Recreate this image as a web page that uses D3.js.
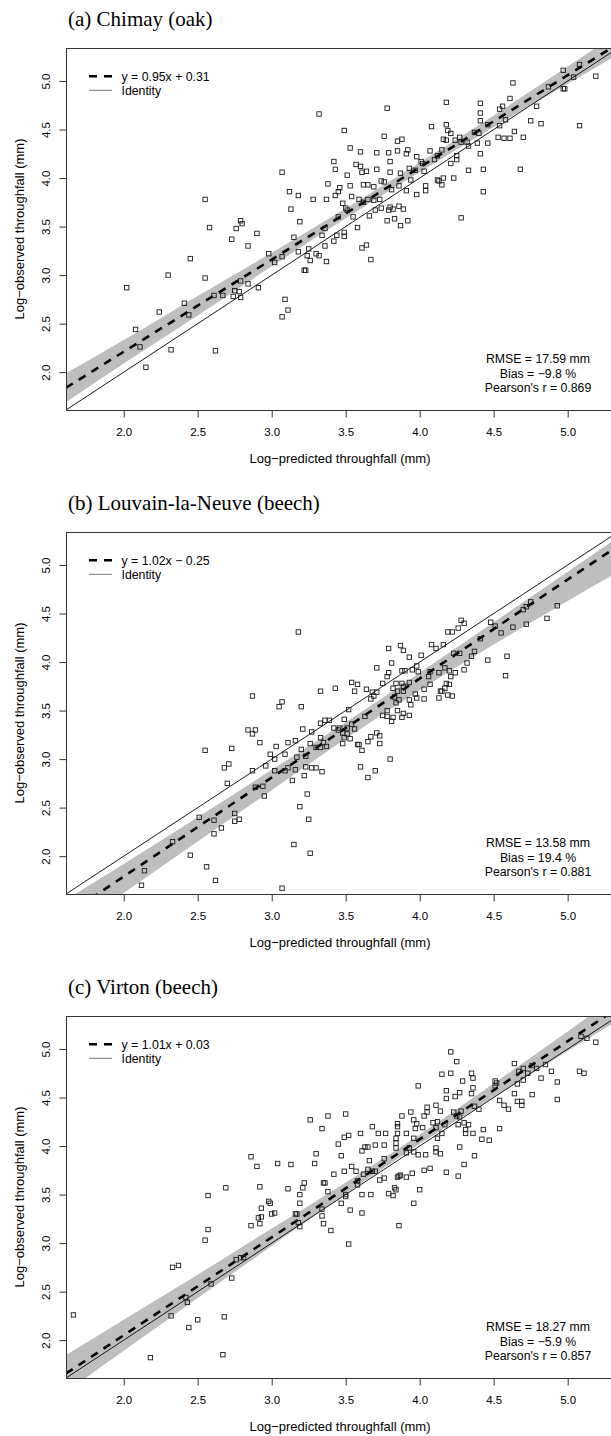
<!DOCTYPE html>
<html>
<head>
<meta charset="utf-8">
<script src="https://cdn.jsdelivr.net/npm/d3@7"></script>
<style>
  body { margin: 0; background: #fff; }
  svg text { font-family: "Liberation Sans", Arial, sans-serif; fill: #000; }
  .title { font-family: "Liberation Serif", "Times New Roman", serif; }
</style>
</head>
<body>
<svg id="chart" width="611" height="1436"></svg>
<script>
// ---- data ----
const panelTitles = ["(a) Chimay (oak)", "(b) Louvain-la-Neuve (beech)", "(c) Virton (beech)"];
const fitSlopes = [0.95, 1.02, 1.01];
const fitIntercepts = [0.31, -0.25, 0.03];
const fitLabels = ["y = 0.95x + 0.31", "y = 1.02x \u2212 0.25", "y = 1.01x + 0.03"];
const rmseLabels = ["RMSE = 17.59 mm", "RMSE = 13.58 mm", "RMSE = 18.27 mm"];
const biasLabels = ["Bias = \u22129.8 %", "Bias = 19.4 %", "Bias = \u22125.9 %"];
const pearsonLabels = ["Pearson's r = 0.869", "Pearson's r = 0.881", "Pearson's r = 0.857"];
const tickValues = [2.0, 2.5, 3.0, 3.5, 4.0, 4.5, 5.0];

// confidence band, offsets above / below the fitted line
const bandX = [1.61, 2.0, 2.5, 3.0, 3.5, 4.0, 4.5, 5.0, 5.34];
const bandUpA = [0.15, 0.12, 0.10, 0.07, 0.05, 0.05, 0.06, 0.09, 0.11];
const bandLoA = [0.15, 0.12, 0.10, 0.07, 0.05, 0.05, 0.06, 0.09, 0.11];
const bandUpB = [0.16, 0.13, 0.10, 0.08, 0.06, 0.06, 0.07, 0.08, 0.09];
const bandLoB = [0.19, 0.17, 0.15, 0.13, 0.11, 0.12, 0.16, 0.22, 0.27];
const bandUpC = [0.19, 0.16, 0.12, 0.09, 0.06, 0.05, 0.07, 0.10, 0.13];
const bandLoC = [0.19, 0.16, 0.12, 0.09, 0.06, 0.05, 0.07, 0.10, 0.13];

// [log-predicted, log-observed]
const chimayPts = [
  [3.32,4.66],[3.42,4.17],[3.43,4.09],[3.07,4.06],[3.38,3.94],[3.12,3.86],[3.18,3.82],[3.28,3.78],[3.37,3.78],[2.55,3.78],
  [3.13,3.68],[2.79,3.56],[2.80,3.53],[2.76,3.48],[2.58,3.49],[3.19,3.55],[3.36,3.48],[2.73,3.37],[2.90,3.43],[3.15,3.39],
  [3.34,3.41],[3.36,3.30],[2.84,3.30],[2.45,3.17],[2.98,3.22],[3.07,3.19],[3.02,3.13],[3.18,3.24],[3.25,3.27],[3.24,3.20],
  [3.26,3.15],[3.30,3.22],[3.32,3.20],[3.37,3.14],[3.22,3.05],[3.23,3.05],[2.30,3.00],[2.55,2.97],[2.02,2.87],[2.61,2.79],
  [2.67,2.79],[2.74,2.78],[2.75,2.84],[2.78,2.83],[2.79,2.77],[2.84,2.91],[2.91,2.87],[2.79,2.94],[3.09,2.75],[3.11,2.64],
  [3.07,2.57],[2.41,2.71],[2.44,2.59],[2.24,2.62],[2.08,2.44],[2.11,2.26],[2.32,2.23],[2.62,2.22],[2.15,2.05],
  [3.46,3.90],[3.43,3.82],[3.44,3.41],[3.42,3.35],
  [5.08,5.17],[4.97,5.11],[5.04,5.04],[5.19,5.05],[4.63,4.98],[4.97,4.92],[4.98,4.92],[4.87,4.94],
  [3.78,4.72],[4.18,4.78],[4.41,4.77],[4.61,4.82],[4.56,4.74],[4.54,4.71],[4.79,4.74],
  [4.41,4.67],[4.58,4.60],[4.41,4.59],[4.46,4.55],[4.75,4.59],[4.82,4.56],[5.08,4.54],[4.54,4.54],
  [3.49,4.49],[4.08,4.53],[4.18,4.55],[4.19,4.49],[4.21,4.46],[4.64,4.48],[4.37,4.47],[4.40,4.46],
  [3.76,4.43],[4.27,4.42],[4.24,4.39],[4.18,4.39],[4.16,4.40],[3.85,4.38],[3.88,4.40],[4.53,4.42],[4.57,4.41],[4.61,4.41],[4.70,4.42],
  [4.28,4.37],[4.32,4.37],[4.33,4.33],[4.39,4.36],[4.46,4.36],
  [3.53,4.31],[3.60,4.27],[3.71,4.26],[3.79,4.26],[3.85,4.28],[3.92,4.29],[3.91,4.25],[4.07,4.28],[4.15,4.29],[4.12,4.23],[4.41,4.25],[4.25,4.23],
  [3.98,4.22],[4.01,4.17],[4.02,4.15],[4.10,4.19],[4.21,4.15],[4.25,4.19],[3.57,4.14],[3.80,4.17],
  [3.60,4.12],[3.61,4.06],[3.64,4.07],[3.71,4.09],[3.80,4.06],[3.87,4.05],[3.93,4.10],[3.97,4.08],[4.03,4.07],[4.33,4.08],[4.43,4.09],[4.68,4.09],[3.51,4.03],
  [3.74,3.97],[3.76,3.96],[3.94,3.98],[4.12,3.98],[4.16,4.00],[4.23,4.00],[4.13,3.97],[4.15,3.93],
  [3.45,3.86],[3.53,3.92],[3.62,3.93],[3.65,3.93],[3.69,3.91],[3.81,3.88],[3.86,3.92],[3.91,3.87],[3.98,3.83],[4.04,3.87],[4.04,3.92],
  [3.54,3.81],[3.59,3.78],[3.62,3.75],[3.65,3.78],[3.69,3.77],[3.73,3.78],[3.74,3.69],[3.50,3.69],[3.48,3.74],[3.51,3.67],
  [3.45,3.60],[3.55,3.60],[3.58,3.49],[3.66,3.61],[3.70,3.67],[3.79,3.67],[3.80,3.70],[3.82,3.68],[3.86,3.71],[3.89,3.68],
  [3.78,3.56],[3.83,3.58],[3.87,3.51],[3.92,3.56],[3.49,3.44],[3.49,3.40],[3.61,3.28],[3.64,3.31],[3.67,3.16],
  [4.28,3.59],[4.43,3.86]
];

const louvainPts = [
  [3.18,4.31],[3.33,3.70],[3.43,3.73],[2.87,3.65],[3.05,3.54],[3.07,3.59],[3.20,3.54],[2.84,3.30],[2.89,3.30],[2.87,3.26],
  [3.21,3.31],[3.27,3.28],[2.92,3.17],[3.03,3.13],[3.11,3.17],[3.16,3.19],[2.99,3.05],[3.02,3.00],[3.09,3.05],[3.20,3.10],
  [3.23,3.03],[3.17,3.02],[3.26,3.16],[3.30,3.12],[3.33,3.12],[2.55,3.09],[2.73,3.11],[2.68,2.91],[2.71,2.95],[2.87,2.88],
  [2.96,2.93],[3.02,2.88],[3.09,2.88],[3.11,2.91],[3.16,2.89],[3.23,2.92],[3.27,2.91],[3.30,2.91],[3.34,2.87],[3.22,2.83],
  [3.14,2.78],[2.70,2.75],[2.89,2.71],[2.94,2.72],[2.95,2.62],[3.24,2.64],[3.19,2.51],[3.25,2.38],[2.51,2.40],[2.61,2.37],
  [2.61,2.23],[2.66,2.29],[2.75,2.44],[2.75,2.36],[2.78,2.38],[2.33,2.15],[2.45,2.01],[2.56,1.89],[2.62,1.75],[2.14,1.85],
  [2.12,1.70],[3.15,2.12],[3.26,2.03],[3.07,1.67],
  [3.33,3.37],[3.36,3.40],[3.39,3.40],[3.33,3.22],[3.35,3.17],[3.37,3.13],[3.42,3.32],
  [4.93,4.58],[4.86,4.45],[4.75,4.62],[4.72,4.57],[4.70,4.54],[4.72,4.39],[4.63,4.36],[4.55,4.30],[4.48,4.41],[4.51,4.37],
  [4.28,4.43],[4.30,4.40],[4.26,4.35],[4.19,4.31],[4.22,4.31],[4.41,4.24],[4.08,4.18],[4.16,4.18],[4.11,4.14],[3.79,4.14],
  [3.87,4.17],[3.89,4.12],[3.93,4.05],[4.01,4.07],[4.23,4.09],[4.27,4.09],[4.37,4.11],[4.35,4.06],[4.32,3.99],[4.46,4.02],
  [4.59,4.06],[4.58,3.86],[4.30,3.92],[3.81,3.99],[3.71,3.94],[3.79,3.89],[3.78,3.85],[3.88,3.91],[3.90,3.91],[3.95,3.92],
  [3.98,3.96],[3.99,3.90],[4.07,3.90],[4.06,3.85],[4.13,3.89],[4.17,3.94],[4.20,3.91],[4.24,3.89],[4.21,3.85],[4.18,3.78],
  [4.20,3.77],[4.17,3.73],[4.15,3.70],[4.14,3.70],[4.19,3.66],[4.22,3.65],[4.13,3.63],[4.03,3.72],[4.07,3.77],[4.03,3.62],
  [3.98,3.63],[3.97,3.67],[3.93,3.79],[3.88,3.78],[3.89,3.75],[3.84,3.78],[3.82,3.73],[3.85,3.70],[3.89,3.70],[3.83,3.64],
  [3.86,3.61],[3.84,3.58],[3.93,3.61],[3.94,3.56],[3.75,3.78],[3.71,3.69],[3.68,3.69],[3.64,3.72],[3.69,3.65],[3.67,3.62],
  [3.54,3.79],[3.58,3.77],[3.56,3.70],[3.78,3.50],[3.75,3.45],[3.78,3.44],[3.82,3.43],[3.88,3.43],[3.85,3.50],[3.93,3.45],
  [3.81,3.39],[3.89,3.47],[3.63,3.44],[3.52,3.51],[3.49,3.41],[3.54,3.36],[3.51,3.32],[3.46,3.32],[3.45,3.30],[3.48,3.27],
  [3.51,3.26],[3.56,3.31],[3.49,3.22],[3.53,3.21],[3.48,3.16],[3.58,3.15],[3.59,3.15],[3.61,3.09],[3.65,3.18],[3.67,3.23],
  [3.71,3.27],[3.73,3.24],[3.73,3.16],[3.80,3.00],[3.60,2.92],[3.70,2.88],[3.65,2.81]
];

const virtonPts = [
  [1.66,2.26],[2.18,1.82],[2.67,1.85],[2.68,2.24],[2.50,2.21],[2.44,2.13],[2.32,2.25],[2.43,2.39],[2.42,2.44],[2.33,2.75],
  [2.37,2.77],[2.59,2.58],[2.73,2.64],[2.76,2.83],[2.79,2.85],[2.81,2.85],[2.55,3.03],[2.57,3.14],[2.57,3.49],[2.69,3.57],
  [2.86,3.89],[2.90,3.79],[3.04,3.82],[3.13,3.81],[2.92,3.58],[3.11,3.56],[2.98,3.43],[2.99,3.41],[2.93,3.36],[2.86,3.18],
  [2.92,3.20],[2.93,3.27],[2.91,3.26],[3.00,3.30],[3.02,3.31],[3.19,3.50],[3.19,3.41],[3.21,3.57],[3.22,3.62],[3.16,3.30],
  [3.17,3.30],[3.18,3.21],[3.19,3.17],[3.26,4.27],[3.34,4.18],[3.38,4.31],[3.30,3.92],[3.29,3.82],[3.42,3.71],[3.35,3.62],
  [3.36,3.62],[3.38,3.53],[3.34,3.35],[3.34,3.28],[3.35,3.20],[3.40,3.13],
  [5.08,4.77],[5.11,4.75],[5.19,5.07],[5.13,5.11],[5.09,5.13],[4.21,4.97],[4.25,4.87],[4.15,4.74],[4.21,4.75],[4.35,4.75],
  [4.36,4.70],[4.29,4.67],[4.36,4.60],[4.35,4.54],[3.99,4.62],[4.18,4.57],[4.18,4.49],[4.24,4.51],[4.27,4.55],[4.51,4.67],
  [4.52,4.65],[4.51,4.62],[4.64,4.85],[4.67,4.77],[4.70,4.80],[4.76,4.83],[4.79,4.80],[4.85,4.84],[4.89,4.77],[4.82,4.70],
  [4.93,4.66],[4.93,4.48],[4.73,4.75],[4.70,4.68],[4.66,4.64],[4.64,4.54],[4.76,4.53],[4.66,4.46],[4.69,4.46],[4.69,4.42],
  [4.60,4.38],[4.57,4.42],[4.54,4.47],[4.37,4.41],[4.40,4.38],[3.50,4.33],[3.94,4.35],[3.88,4.31],[4.05,4.40],[4.05,4.35],
  [4.03,4.31],[4.11,4.42],[4.14,4.36],[4.23,4.35],[4.28,4.36],[4.25,4.31],[4.27,4.30],[4.09,4.24],[4.12,4.25],[4.17,4.22],
  [4.26,4.22],[4.30,4.24],[4.33,4.22],[4.31,4.13],[4.36,4.13],[4.31,4.17],[4.43,4.17],[4.54,4.18],[4.42,4.07],[4.47,4.06],
  [4.27,3.99],[4.37,3.90],[4.30,3.81],[4.26,3.69],[4.18,3.73],[3.68,4.20],[3.72,4.13],[3.77,4.13],[3.60,4.13],[3.85,4.23],
  [3.85,4.20],[3.96,4.27],[3.98,4.23],[3.97,4.18],[3.91,4.13],[3.85,4.13],[3.84,4.08],[3.96,4.08],[4.02,4.19],[4.15,4.13],
  [4.11,4.19],[4.12,4.08],[3.52,4.11],[3.49,4.09],[3.45,4.02],[3.47,3.90],[3.63,3.99],[3.65,3.99],[3.70,4.01],[3.76,4.01],
  [3.61,3.95],[3.66,3.85],[3.76,3.87],[3.84,4.03],[3.84,3.98],[3.91,3.93],[3.93,3.98],[3.96,3.94],[3.99,3.91],[4.04,3.91],
  [4.11,3.98],[4.11,3.94],[4.14,3.92],[4.03,3.75],[4.07,3.77],[3.54,3.79],[3.57,3.74],[3.65,3.76],[3.68,3.74],[3.70,3.74],
  [3.49,3.74],[3.62,3.71],[3.58,3.64],[3.58,3.60],[3.50,3.50],[3.50,3.48],[3.47,3.41],[3.61,3.50],[3.67,3.50],[3.73,3.65],
  [3.76,3.67],[3.79,3.51],[3.82,3.49],[3.83,3.57],[3.84,3.55],[3.85,3.68],[3.86,3.69],[3.87,3.70],[3.91,3.68],[3.95,3.72],
  [3.96,3.41],[4.00,3.55],[3.86,3.18],[3.53,3.34],[3.61,3.31],[3.52,2.99]
];

const panelPoints = [chimayPts, louvainPts, virtonPts];
const panelBandUp = [bandUpA, bandUpB, bandUpC];
const panelBandLo = [bandLoA, bandLoB, bandLoC];

// ---- layout ----
const panelStep = 484;
const plotLeft = 66, plotRight = 618, plotTop = 48, plotBottom = 410;
const svg = d3.select("#chart");

const x = d3.scaleLinear().domain([1.61, 5.34]).range([plotLeft, plotRight]);
const y = d3.scaleLinear().domain([1.61, 5.34]).range([plotBottom, plotTop]);

svg.append("defs").append("clipPath")
    .attr("id", "plotclip")
    .append("rect")
    .attr("x", plotLeft).attr("y", plotTop)
    .attr("width", plotRight - plotLeft).attr("height", plotBottom - plotTop);

function drawPanel(i) {
    const g = svg.append("g").attr("transform", `translate(0,${i * panelStep})`);
    const a = fitSlopes[i], b = fitIntercepts[i];
    const fit = v => a * v + b;

    g.append("text")
        .attr("class", "title")
        .attr("x", 68).attr("y", 26)
        .style("font-size", "21px")
        .text(panelTitles[i]);

    const plot = g.append("g").attr("clip-path", "url(#plotclip)");

    // confidence band
    const bandData = bandX.map((v, k) => ({ x: v, up: panelBandUp[i][k], lo: panelBandLo[i][k] }));
    plot.append("path")
        .datum(bandData)
        .attr("fill", "#bebebe")
        .attr("d", d3.area()
            .x(d => x(d.x))
            .y0(d => y(fit(d.x) - d.lo))
            .y1(d => y(fit(d.x) + d.up))
            .curve(d3.curveMonotoneX));

    // identity line
    plot.append("line")
        .attr("x1", x(1.61)).attr("y1", y(1.61))
        .attr("x2", x(5.34)).attr("y2", y(5.34))
        .attr("stroke", "#000").attr("stroke-width", 0.9);

    // fitted line
    plot.append("line")
        .attr("x1", x(1.61)).attr("y1", y(fit(1.61)))
        .attr("x2", x(5.34)).attr("y2", y(fit(5.34)))
        .attr("stroke", "#000").attr("stroke-width", 2.6)
        .attr("stroke-dasharray", "8,7");

    // points
    plot.selectAll("rect.pt")
        .data(panelPoints[i])
        .enter().append("rect")
        .attr("class", "pt")
        .attr("x", d => x(d[0]) - 2.2)
        .attr("y", d => y(d[1]) - 2.2)
        .attr("width", 4.4).attr("height", 4.4)
        .attr("fill", "none")
        .attr("stroke", "#1a1a1a")
        .attr("stroke-width", 0.9);

    // frame
    g.append("rect")
        .attr("x", plotLeft + 0.5).attr("y", plotTop + 0.5)
        .attr("width", plotRight - plotLeft).attr("height", plotBottom - plotTop)
        .attr("fill", "none").attr("stroke", "#333").attr("stroke-width", 1);

    // axes
    const xAxis = g.append("g")
        .attr("transform", `translate(0,${plotBottom + 0.5})`)
        .call(d3.axisBottom(x).tickValues(tickValues).tickSize(7).tickFormat(d3.format(".1f")));
    const yAxis = g.append("g")
        .attr("transform", `translate(${plotLeft + 0.5},0)`)
        .call(d3.axisLeft(y).tickValues(tickValues).tickSize(7).tickFormat(d3.format(".1f")));
    [xAxis, yAxis].forEach(ax => {
        ax.select(".domain").remove();
        ax.selectAll(".tick line").attr("stroke", "#333");
        ax.selectAll("text").style("font-size", "11.5px").attr("fill", "#000");
    });
    xAxis.selectAll("text").attr("y", 21).attr("dy", "0.35em");
    yAxis.selectAll("text")
        .attr("transform", "rotate(-90)")
        .attr("text-anchor", "middle")
        .attr("x", 0).attr("y", -21).attr("dy", "0.35em");

    // axis titles
    g.append("text")
        .attr("x", 340).attr("y", 458).attr("dy", "0.35em")
        .attr("text-anchor", "middle")
        .style("font-size", "13px")
        .text("Log\u2212predicted throughfall (mm)");
    g.append("text")
        .attr("transform", `translate(19.5,${(plotTop + plotBottom) / 2}) rotate(-90)`)
        .attr("dy", "0.35em")
        .attr("text-anchor", "middle")
        .style("font-size", "13px")
        .text("Log\u2212observed throughfall (mm)");

    // legend
    const leg = g.append("g");
    leg.append("line")
        .attr("x1", 89).attr("x2", 112).attr("y1", 76.3).attr("y2", 76.3)
        .attr("stroke", "#000").attr("stroke-width", 2.6).attr("stroke-dasharray", "8,7");
    leg.append("line")
        .attr("x1", 89).attr("x2", 112).attr("y1", 90.3).attr("y2", 90.3)
        .attr("stroke", "#777").attr("stroke-width", 1);
    leg.append("text").attr("x", 121.5).attr("y", 76.3).attr("dy", "0.35em")
        .style("font-size", "12.3px").text(fitLabels[i]);
    leg.append("text").attr("x", 121.5).attr("y", 90.3).attr("dy", "0.35em")
        .style("font-size", "12.3px").text("Identity");

    // stats
    [rmseLabels[i], biasLabels[i], pearsonLabels[i]].forEach((t, k) => {
        g.append("text")
            .attr("x", 538).attr("y", 358.3 + k * 14.9).attr("dy", "0.35em")
            .attr("text-anchor", "middle")
            .style("font-size", "12.3px")
            .text(t);
    });
}

panelTitles.forEach((t, i) => drawPanel(i));
</script>
</body>
</html>
